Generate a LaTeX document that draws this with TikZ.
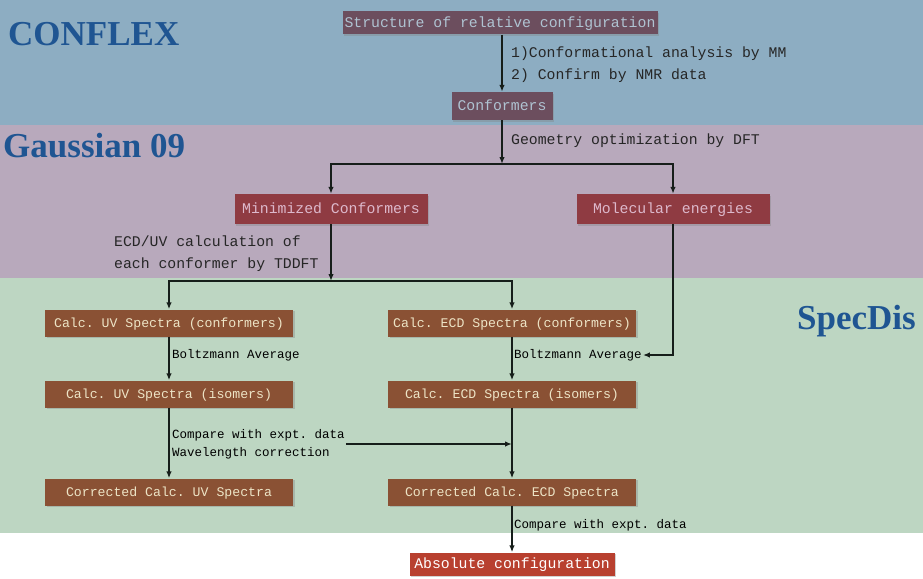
\documentclass[tikz,border=0pt]{standalone}
\usepackage{fontspec}
\setmainfont{Liberation Serif}
\setmonofont{Liberation Mono}
\usetikzlibrary{arrows.meta,shadows}
\definecolor{bandblue}{HTML}{8DADC2}
\definecolor{bandpurple}{HTML}{B8A9BC}
\definecolor{bandgreen}{HTML}{BDD6C2}
\definecolor{titleblue}{HTML}{1F5592}
\definecolor{mauvebox}{HTML}{6C4E5E}
\definecolor{mauvetext}{HTML}{AFC3D2}
\definecolor{redbox}{HTML}{8F3B42}
\definecolor{redtext}{HTML}{DDB9CC}
\definecolor{brownbox}{HTML}{8A5134}
\definecolor{browntext}{HTML}{EDE4C6}
\definecolor{absbox}{HTML}{B8402F}
\definecolor{linedark}{HTML}{161E1A}
\tikzset{
  stepbox/.style={inner sep=0pt, text height=9.8pt, text depth=0pt,
    drop shadow={shadow xshift=1.5pt, shadow yshift=-1.5pt, opacity=0.35}},
  topbox/.style={stepbox, fill=mauvebox, text=mauvetext, font=\ttfamily\fontsize{14.8}{18}\selectfont},
  midbox/.style={stepbox, fill=redbox, text=redtext, minimum width=193pt, minimum height=30pt, font=\ttfamily\fontsize{14.8}{18}\selectfont},
  specbox/.style={stepbox, text height=8.7pt, fill=brownbox, text=browntext, minimum width=248pt, minimum height=27pt, font=\ttfamily\fontsize{13.2}{16}\selectfont},
  lbl/.style={anchor=west, inner sep=1pt, align=left, text=black!85, font=\ttfamily\fontsize{14.8}{22}\selectfont},
  smalllbl/.style={anchor=west, inner sep=1pt, align=left, text=black, font=\ttfamily\fontsize{12.5}{18}\selectfont},
  title/.style={anchor=base west, inner sep=0pt, text=titleblue, font=\bfseries\fontsize{35}{40}\selectfont},
  arr/.style={draw=linedark, line width=1.6pt, -{Latex[length=7pt,width=5.5pt]}}
}
\begin{document}
\begin{tikzpicture}[x=1pt,y=-1pt]
  \useasboundingbox (0,0) rectangle (923,578);
  \fill[white] (0,0) rectangle (923,578);
  \fill[bandblue] (0,0) rectangle (923,125);
  \fill[bandpurple] (0,125) rectangle (923,278);
  \fill[bandgreen] (0,278) rectangle (923,533);

  \node[title] (tconf) at (8,46) {CONFLEX};
  \node[title] (tgau) at (3,157) {Gaussian 09};
  \node[title] (tspec) at (797,329) {SpecDis};

  \node[topbox, minimum width=315pt, minimum height=23pt] (rel) at (500,23) {Structure of relative configuration};
  \node[topbox, minimum width=101pt, minimum height=28pt] (conf) at (502,106) {Conformers};
  \node[midbox] (mini) at (331,209) {Minimized Conformers};
  \node[midbox] (mole) at (673,209) {Molecular energies};
  \node[specbox] (uvc) at (169,323) {Calc. UV Spectra (conformers)};
  \node[specbox] (ecdc) at (512,323) {Calc. ECD Spectra (conformers)};
  \node[specbox] (uvi) at (169,394) {Calc. UV Spectra (isomers)};
  \node[specbox] (ecdi) at (512,394) {Calc. ECD Spectra (isomers)};
  \node[specbox] (uvcor) at (169,492) {Corrected Calc. UV Spectra};
  \node[specbox] (ecdcor) at (512,492) {Corrected Calc. ECD Spectra};
  \node[stepbox, fill=absbox, text=white, minimum width=205pt, minimum height=23pt,
        font=\ttfamily\fontsize{14.8}{18}\selectfont] (abs) at (512,564) {Absolute configuration};

  \coordinate (g1) at (502,164);
  \coordinate (g2) at (331,281);

  \node[lbl] (mm) at (510,65) {1)Conformational analysis by MM\\2) Confirm by NMR data};
  \node[lbl] (dft) at (510,141) {Geometry optimization by DFT};
  \node[lbl] (tddft) at (113,254) {ECD/UV calculation of\\each conformer by TDDFT};
  \node[smalllbl] (bz1) at (171,355) {Boltzmann Average};
  \node[smalllbl] (bz2) at (513,355) {Boltzmann Average};
  \node[smalllbl] (cmp) at (171,444) {Compare with expt. data\\Wavelength correction};
  \node[smalllbl] (cmp2) at (513,525) {Compare with expt. data};

  \draw[arr] (rel.south -| conf) -- (conf);
  \draw[arr] (conf) -- (g1);
  \draw[arr] (g1) -| (mini);
  \draw[arr] (g1) -| (mole);
  \draw[arr] (mini) -- (g2);
  \draw[arr] (g2) -| (uvc);
  \draw[arr] (g2) -| (ecdc);
  \draw[arr] (uvc) -- (uvi);
  \draw[arr] (ecdc) -- (ecdi);
  \draw[arr] (mole) |- (bz2.east);
  \draw[arr] (uvi) -- (uvcor);
  \draw[arr] (ecdi) -- (ecdcor);
  \draw[arr] (cmp.east) -- (cmp.east -| ecdi);
  \draw[arr] (ecdcor) -- (abs);
\end{tikzpicture}
\end{document}
